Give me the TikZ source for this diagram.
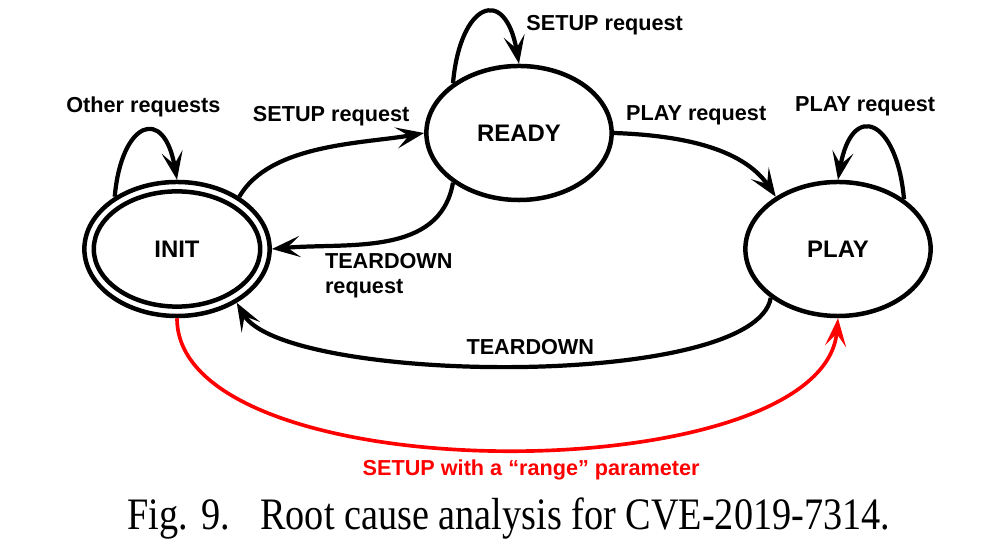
\documentclass[tikz,border=0pt]{standalone}
\usepackage{fontspec}
\setmainfont{Liberation Sans}
\newfontfamily\capfont{Liberation Serif}
\usetikzlibrary{arrows.meta,shapes.geometric,positioning}
\tikzset{statenode/.style={ % Sets the properties for each state
            ellipse,
            draw,
            line width=3.2pt,
            minimum width=4.63cm,
            minimum height=3.35cm,
            inner sep=0pt,
            font=\bfseries\fontsize{17}{20}\selectfont},
        edgelabel/.style={ % Text on the transitions
            font=\bfseries\fontsize{15.4}{18}\selectfont},
        every edge/.style={ % Sets the properties for each transition
            draw,
            -{Stealth[length=20pt,width=15pt,inset=9pt]}, % Long arrowheads with a deep notch
            line width=3pt}
        }

\begin{document}
\begin{tikzpicture}[x=0.025cm, y=0.025cm]
    \useasboundingbox (0,0) rectangle (1003,550);

    \node[statenode] (init)  at (177,301) {INIT};
    \node[statenode] (ready) at (519,417) {READY};
    \node[statenode] (play)  at (838,301) {PLAY};
    \draw[line width=3.2pt] (init.center) ellipse [x radius=2.08cm, y radius=1.44cm];

    \draw
        (init.140)
            edge[out=85, in=100, looseness=3] node[edgelabel, above=6pt] {Other requests} (init.north)
        (init.40)
            edge[out=60, in=190, looseness=0.8] node[edgelabel, above=10pt, pos=0.55] {SETUP request} (ready.west)
        (ready.143)
            edge[out=85, in=100, looseness=3] node[edgelabel, anchor=west, pos=0.7, xshift=14pt, yshift=-5pt] {SETUP request} (ready.north)
        (ready.217)
            edge[out=-100, in=5] node[edgelabel, anchor=north west, align=left, pos=0.8] {TEARDOWN\\request} (init.east)
        (ready.east)
            edge[out=-2, in=124, looseness=0.9] node[edgelabel, above=8.5pt, pos=0.45] {PLAY request} (play.140)
        (play.37)
            edge[out=95, in=80, looseness=3] node[edgelabel, above=5pt, xshift=-6pt] {PLAY request} (play.north)
        (play.216)
            edge[out=-100, in=-60, looseness=0.45] node[edgelabel, above=3pt, pos=0.48] {TEARDOWN} (init.-42)
        (init.south)
            edge[red, line width=2.6pt, out=-90, in=-95, looseness=0.68] node[edgelabel, below=3pt, pos=0.53, text=red] {SETUP with a “range” parameter} (play.south);

    \node[anchor=base] (caption) at (509,20) {\capfont\fontsize{32}{36}\selectfont\scalebox{0.85}[1]{Fig. 9.\hspace{0.8em}Root cause analysis for CVE-2019-7314.}};
\end{tikzpicture}
\end{document}
